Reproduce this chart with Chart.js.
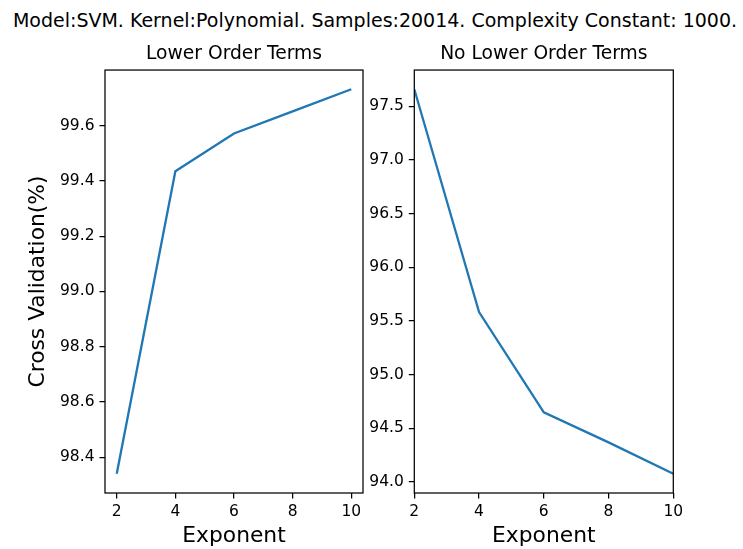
<!DOCTYPE html>
<html>
<head>
<meta charset="utf-8">
<script src="https://cdn.jsdelivr.net/npm/chart.js@4/dist/chart.umd.min.js"></script>
<style>
  body { margin: 0; background: #fff; }
  #wrap { position: relative; width: 743px; height: 549px; overflow: hidden; }
  #wrap canvas { position: absolute; left: 0; top: 0; }
  #suptitle {
    position: absolute; left: 0; top: 8px; width: 750px;
    text-align: center; white-space: nowrap;
    font-family: "DejaVu Sans"; font-size: 19px; line-height: 24px; color: #000;
  }
</style>
</head>
<body>
<div id="wrap">
  <div id="suptitle">Model:SVM. Kernel:Polynomial. Samples:20014. Complexity Constant: 1000.</div>
  <canvas id="lowerChart" width="743" height="549"></canvas>
  <canvas id="noLowerChart" width="743" height="549"></canvas>
</div>
<script>
// cross validation accuracy (%) per polynomial exponent
const exponents = [2, 4, 6, 8, 10];
const withLowerTerms = [98.34, 99.435, 99.572, 99.652, 99.732];
const withoutLowerTerms = [97.66, 95.584, 94.649, 94.37, 94.077];

const xTicks = [2, 4, 6, 8, 10];
const lowerYTicks = [98.4, 98.6, 98.8, 99.0, 99.2, 99.4, 99.6];
const noLowerYTicks = [94.0, 94.5, 95.0, 95.5, 96.0, 96.5, 97.0, 97.5];

const FAMILY = '"DejaVu Sans", sans-serif';
const LINE = '#1f77b4';

// box around the plot area (all four spines)
const frame = {
    id: 'frame',
    afterDatasetsDraw(chart) {
        const { ctx, chartArea: a } = chart;
        ctx.save();
        ctx.strokeStyle = '#000';
        ctx.lineWidth = 1.25;
        ctx.strokeRect(a.left, a.top, a.right - a.left, a.bottom - a.top);
        ctx.restore();
    }
};

// pad the data range by 5% like a default autoscaled axis
function padded(values) {
    const lo = Math.min(...values), hi = Math.max(...values);
    const m = (hi - lo) * 0.05;
    return { min: lo - m, max: hi + m };
}

function makeChart(id, o) {
    const yRange = padded(o.values);
    const grid = { drawOnChartArea: false, drawTicks: true, tickLength: 5.5, color: '#000', lineWidth: 1.25 };
    return new Chart(document.getElementById(id), {
        type: 'line',
        data: {
            datasets: [{
                data: exponents.map((x, i) => ({ x: x, y: o.values[i] })),
                borderColor: LINE,
                borderWidth: 2.3,
                pointRadius: 0,
                tension: 0,
                fill: false
            }]
        },
        options: {
            responsive: false,
            animation: false,
            layout: { padding: { left: o.padLeft, right: o.padRight, top: 0, bottom: 0 } },
            plugins: {
                legend: { display: false },
                tooltip: { enabled: false },
                title: {
                    display: true,
                    text: o.title,
                    fullSize: false,
                    color: '#000',
                    font: { family: FAMILY, size: 18.7, weight: 'normal' },
                    padding: { top: 42.8, bottom: 4.8 }
                }
            },
            scales: {
                x: {
                    type: 'linear',
                    min: o.xMin,
                    max: o.xMax,
                    afterBuildTicks: s => { s.ticks = xTicks.map(v => ({ value: v })); },
                    afterFit: s => { s.height = 56; },
                    border: { display: false },
                    grid: grid,
                    ticks: {
                        color: '#000',
                        font: { family: FAMILY, size: 15.5 },
                        padding: 4.3,
                        maxRotation: 0,
                        autoSkip: false,
                        callback: v => String(v)
                    },
                    title: {
                        display: true,
                        text: 'Exponent',
                        color: '#000',
                        font: { family: FAMILY, size: 21.8 },
                        padding: { top: 0, bottom: 0 }
                    }
                },
                y: {
                    type: 'linear',
                    min: yRange.min,
                    max: yRange.max,
                    afterBuildTicks: s => { s.ticks = o.yTicks.map(v => ({ value: v })); },
                    afterFit: s => { s.width = o.yWidth; },
                    border: { display: false },
                    grid: grid,
                    ticks: {
                        color: '#000',
                        font: { family: FAMILY, size: 15.5 },
                        padding: 5,
                        autoSkip: false,
                        callback: v => v.toFixed(1)
                    },
                    title: {
                        display: !!o.yTitle,
                        text: o.yTitle || '',
                        color: '#000',
                        font: { family: FAMILY, size: 21.8 },
                        padding: { top: 25.3, bottom: 0 }
                    }
                }
            }
        },
        plugins: [frame]
    });
}

makeChart('lowerChart', {
    title: 'Lower Order Terms',
    values: withLowerTerms,
    yTicks: lowerYTicks,
    yTitle: 'Cross Validation(%)',
    xMin: 1.6, xMax: 10.4,
    padLeft: 0, padRight: 380, yWidth: 105
});

makeChart('noLowerChart', {
    title: 'No Lower Order Terms',
    values: withoutLowerTerms,
    yTicks: noLowerYTicks,
    xMin: 2, xMax: 10,
    padLeft: 360, padRight: 69.7, yWidth: 54.3
});
</script>
</body>
</html>
